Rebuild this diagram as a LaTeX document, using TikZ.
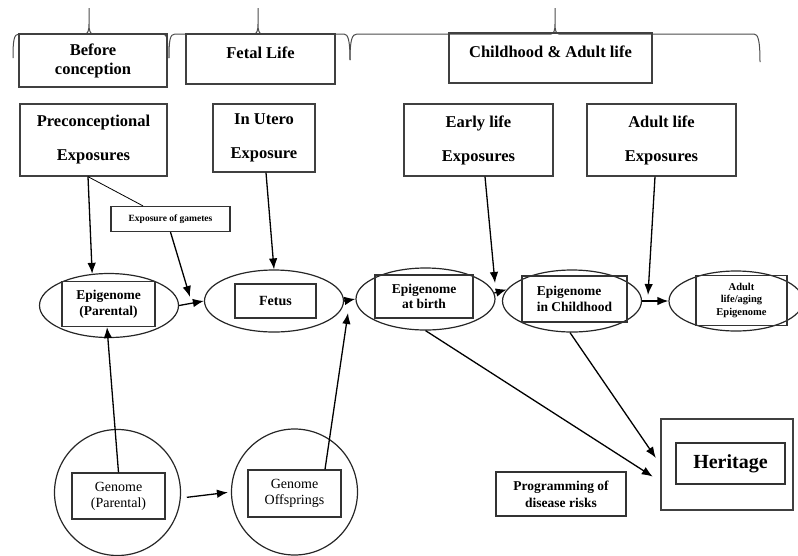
\documentclass[tikz,border=0pt]{standalone}
\usepackage{fontspec}
\setmainfont{Liberation Serif}
\usetikzlibrary{shapes.geometric,arrows.meta}
\begin{document}
\begin{tikzpicture}[x=1pt,y=-1pt,
  box/.style={draw=black!75,line width=1.3pt,inner sep=0pt,align=center},
  hdr/.style={box,font=\fontsize{16.5}{19}\selectfont\bfseries},
  ell/.style={ellipse,draw=black!85,line width=1.2pt,inner sep=0pt},
  circ/.style={circle,draw=black!85,line width=1.2pt,inner sep=0pt},
  ibox/.style={draw=black!80,line width=1.2pt,inner sep=0pt,align=center},
  epi/.style={ibox,font=\fontsize{13.5}{15.5}\selectfont\bfseries},
  gen/.style={ibox,font=\fontsize{14}{16}\selectfont},
  arr/.style={-{Latex[length=11pt,width=8.5pt]},line width=1.3pt},
  brace/.style={draw=black!70,line width=1pt},
]
\useasboundingbox (0,0) rectangle (798,555);

% braces
\draw[brace] (13,58) .. controls (13,40) and (14,34) .. (19,34) -- (85,34) .. controls (88,34) and (89,30) .. (89,24) -- (89,8)
  (89,24) .. controls (89,30) and (90,34) .. (93,34) -- (163,34) .. controls (167,34) and (168,40) .. (168,58);
\draw[brace] (169,58) .. controls (169,40) and (170,34) .. (175,34) -- (254,34) .. controls (257,34) and (258,30) .. (258,24) -- (258,8)
  (258,24) .. controls (258,30) and (259,34) .. (262,34) -- (344,34) .. controls (348,34) and (350,40) .. (350,60);
\draw[brace] (350,60) .. controls (350,40) and (352,34) .. (357,34) -- (551,34) .. controls (554,34) and (555,30) .. (555,24) -- (555,8)
  (555,24) .. controls (555,30) and (556,34) .. (559,34) -- (754,34) .. controls (758,34) and (760,40) .. (760,62);

% header boxes
\node[hdr,minimum width=148pt,minimum height=53pt] (bc) at (93,60.5) {Before\\conception};
\node[hdr,minimum width=149pt,minimum height=50pt,text height=24.5pt,text depth=25.5pt] (fl) at (260.5,59) {Fetal Life};
\node[hdr,minimum width=203pt,minimum height=50pt,text height=24pt,text depth=26pt] (ca) at (550.5,58) {Childhood \& Adult life};

% exposures
\node[hdr,minimum width=147pt,minimum height=72pt] (pe) at (93.5,140) {Preconceptional\\[15pt]Exposures};
\node[hdr,minimum width=102pt,minimum height=68pt] (iu) at (264,138) {In Utero\\[15pt]Exposure};
\node[hdr,minimum width=149pt,minimum height=72pt] (el) at (478.5,140) {Early life\\[15pt]Exposures};
\node[hdr,minimum width=149pt,minimum height=72pt] (al) at (661.5,140) {Adult life\\[15pt]Exposures};

\node[ibox,font=\fontsize{9.5}{11}\selectfont\bfseries,minimum width=119pt,minimum height=25pt] (eg) at (170.5,219) {Exposure of gametes};

% ellipses
\node[ell,minimum width=139pt,minimum height=64pt] (e1) at (109,305.5) {};
\node[epi,minimum width=93pt,minimum height=45pt] (b1) at (108.5,304) {Epigenome\\(Parental)};
\node[ell,minimum width=139pt,minimum height=62pt] (e2) at (274,301) {};
\node[epi,font=\fontsize{14}{16}\selectfont\bfseries,minimum width=81pt,minimum height=34pt] (b2) at (275.5,301) {Fetus};
\node[ell,minimum width=139pt,minimum height=62pt] (e3) at (425.5,299) {};
\node[epi,minimum width=98pt,minimum height=43pt] (b3) at (424,296.5) {Epigenome\\at birth};
\node[ell,minimum width=139pt,minimum height=62pt] (e4) at (572,301) {};
\node[epi,align=left,minimum width=105pt,minimum height=46pt] (b4) at (574.5,299) {Epigenome\\in Childhood};
\node[ell,minimum width=134pt,minimum height=60pt] (e5) at (736,301) {};
\node[ibox,font=\fontsize{10.5}{12.5}\selectfont\bfseries,minimum width=91pt,minimum height=50pt] (b5) at (741.5,300.5) {Adult\\life/aging\\Epigenome};

% genome circles
\node[circ,minimum size=126pt] (c1) at (117.5,492.5) {};
\node[gen,minimum width=93pt,minimum height=46pt] (g1) at (118.5,496) {Genome\\(Parental)};
\node[circ,minimum size=126pt] (c2) at (294.5,492) {};
\node[gen,minimum width=93pt,minimum height=47pt] (g2) at (294.5,493.5) {Genome\\Offsprings};

% heritage and programming
\node[box,minimum width=132pt,minimum height=91pt] (h) at (727,464.5) {};
\node[ibox,font=\fontsize{20}{24}\selectfont\bfseries,minimum width=109pt,minimum height=41pt] (hi) at (730.5,463.5) {Heritage};
\node[ibox,font=\fontsize{13.5}{17}\selectfont\bfseries,minimum width=130pt,minimum height=44pt] (pd) at (561,494) {Programming of\\disease risks};

% free ends
\coordinate (jg) at (190,297);
\coordinate (jo) at (348,313);
\coordinate (je) at (495,283);
\coordinate (ja) at (648,295);

% connectors
\draw[arr] ([xshift=-5.5pt]pe.south) -- (e1.118);
\draw[line width=0.8pt] ([xshift=-5.5pt]pe.south) -- ([xshift=-27.5pt]eg.north);
\draw[arr] (eg.south) -- (jg);
\draw[arr] (e1.east) -- (e2.west);
\draw[arr] ([xshift=2pt]iu.south) -- (e2.north);
\draw[arr] (e2.east) -- (e3.west);
\draw[arr] ([xshift=30.5pt]g2.north) -- (jo);
\draw[arr] (g1.north) -- ([xshift=-1.5pt]b1.south);
\draw[arr,shorten <=6pt,shorten >=3pt] (c1.-5) -- (c2.west);
\draw[arr] ([xshift=6.5pt]el.south) -- (je);
\draw[arr] (e3.5) -- (e4.170);
\draw[arr] ([xshift=-6.5pt]al.south) -- (ja);
\draw[arr] (e4.east) -- (e5.west);
\draw[arr,shorten >=9pt] (e3.south) -- ([yshift=-17pt]h.west);
\draw[arr,shorten >=8pt] ([xshift=-2pt]e4.south) -- (h.west);
\end{tikzpicture}
\end{document}
